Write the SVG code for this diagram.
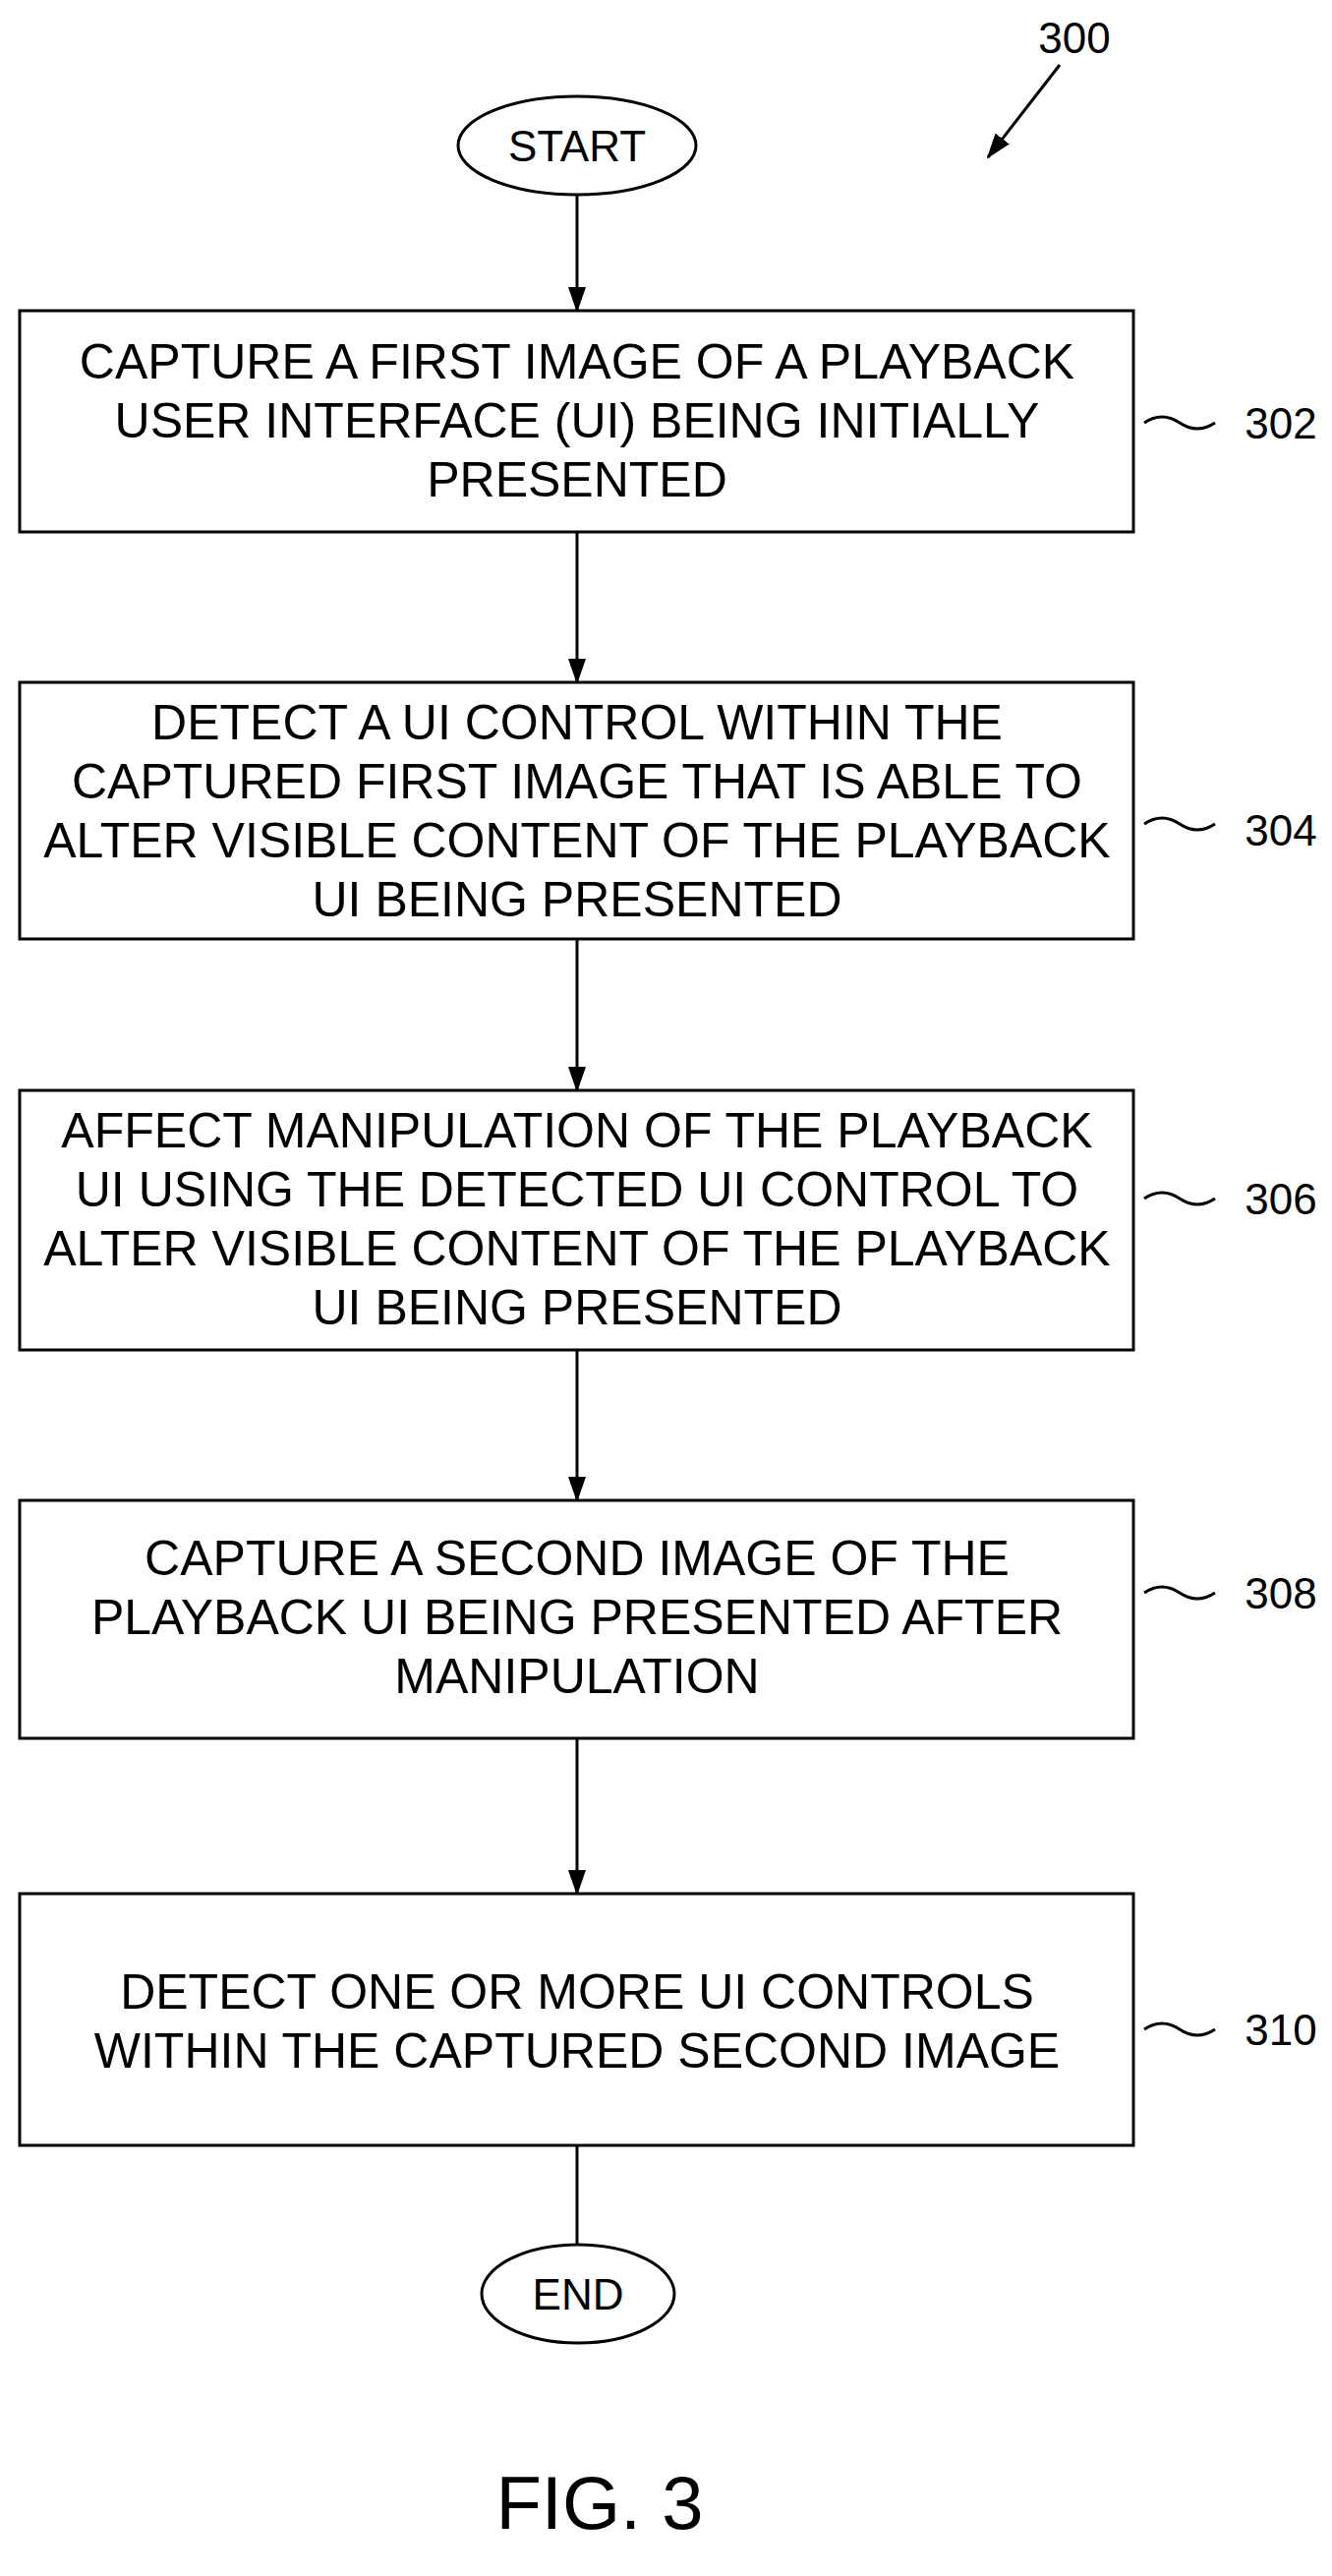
<svg xmlns="http://www.w3.org/2000/svg" width="1355" height="2620" viewBox="0 0 1355 2620">
<style>
.b{fill:#fff;stroke:#000;stroke-width:3}
.t{font-family:"Liberation Sans",Arial,sans-serif;font-size:50px;text-anchor:middle;dominant-baseline:central}
.n{font-family:"Liberation Sans",Arial,sans-serif;font-size:44px;text-anchor:middle;dominant-baseline:central}
.l{stroke:#000;stroke-width:3;fill:none}
</style>
<defs>
<marker id="a2" markerWidth="26" markerHeight="26" refX="24" refY="13" orient="auto" markerUnits="userSpaceOnUse" viewBox="0 0 26 26"><path d="M0,4L26,13L0,22z"/></marker></defs>
<rect width="1355" height="2620" fill="#fff"/>
<g id="connectors">
<line class="l" x1="587" y1="198" x2="587" y2="316" marker-end="url(#a2)"/>
<line class="l" x1="587" y1="541" x2="587" y2="694" marker-end="url(#a2)"/>
<line class="l" x1="587" y1="955" x2="587" y2="1109" marker-end="url(#a2)"/>
<line class="l" x1="587" y1="1373" x2="587" y2="1526" marker-end="url(#a2)"/>
<line class="l" x1="587" y1="1768" x2="587" y2="1926" marker-end="url(#a2)"/>
<line class="l" x1="587" y1="2182" x2="587" y2="2283"/>
<line class="l" x1="1078" y1="66" x2="1005" y2="160" marker-end="url(#a2)"/>
<path class="l" stroke-width="2" d="M1164,430 q18,-12 36,0 t36,0"/>
<path class="l" stroke-width="2" d="M1164,838 q18,-12 36,0 t36,0"/>
<path class="l" stroke-width="2" d="M1164,1219 q18,-12 36,0 t36,0"/>
<path class="l" stroke-width="2" d="M1164,1620 q18,-12 36,0 t36,0"/>
<path class="l" stroke-width="2" d="M1164,2064 q18,-12 36,0 t36,0"/>
</g>
<text class="n" x="1093" y="38">300</text>
<g id="start"><ellipse class="b" cx="587" cy="148" rx="121" ry="50"/><text class="n" x="587" y="148">START</text></g>
<g id="n302"><rect class="b" x="20" y="316" width="1133" height="225"/>
<text class="t" x="587" y="368">CAPTURE A FIRST IMAGE OF A PLAYBACK</text>
<text class="t" x="587" y="428">USER INTERFACE (UI) BEING INITIALLY</text>
<text class="t" x="587" y="488">PRESENTED</text>
<text class="n" x="1303" y="430">302</text></g>
<g id="n304"><rect class="b" x="20" y="694" width="1133" height="261"/>
<text class="t" x="587" y="735">DETECT A UI CONTROL WITHIN THE</text>
<text class="t" x="587" y="795">CAPTURED FIRST IMAGE THAT IS ABLE TO</text>
<text class="t" x="587" y="855">ALTER VISIBLE CONTENT OF THE PLAYBACK</text>
<text class="t" x="587" y="915">UI BEING PRESENTED</text>
<text class="n" x="1303" y="844">304</text></g>
<g id="n306"><rect class="b" x="20" y="1109" width="1133" height="264"/>
<text class="t" x="587" y="1150">AFFECT MANIPULATION OF THE PLAYBACK</text>
<text class="t" x="587" y="1210">UI USING THE DETECTED UI CONTROL TO</text>
<text class="t" x="587" y="1270">ALTER VISIBLE CONTENT OF THE PLAYBACK</text>
<text class="t" x="587" y="1330">UI BEING PRESENTED</text>
<text class="n" x="1303" y="1219">306</text></g>
<g id="n308"><rect class="b" x="20" y="1526" width="1133" height="242"/>
<text class="t" x="587" y="1585">CAPTURE A SECOND IMAGE OF THE</text>
<text class="t" x="587" y="1645">PLAYBACK UI BEING PRESENTED AFTER</text>
<text class="t" x="587" y="1705">MANIPULATION</text>
<text class="n" x="1303" y="1620">308</text></g>
<g id="n310"><rect class="b" x="20" y="1926" width="1133" height="256"/>
<text class="t" x="587" y="2026">DETECT ONE OR MORE UI CONTROLS</text>
<text class="t" x="587" y="2086">WITHIN THE CAPTURED SECOND IMAGE</text>
<text class="n" x="1303" y="2064">310</text></g>
<g id="end"><ellipse class="b" cx="588" cy="2333" rx="98" ry="50"/><text class="n" x="588" y="2333">END</text></g>
<text class="t" x="610" y="2545" style="font-size:76px">FIG. 3</text>
</svg>
